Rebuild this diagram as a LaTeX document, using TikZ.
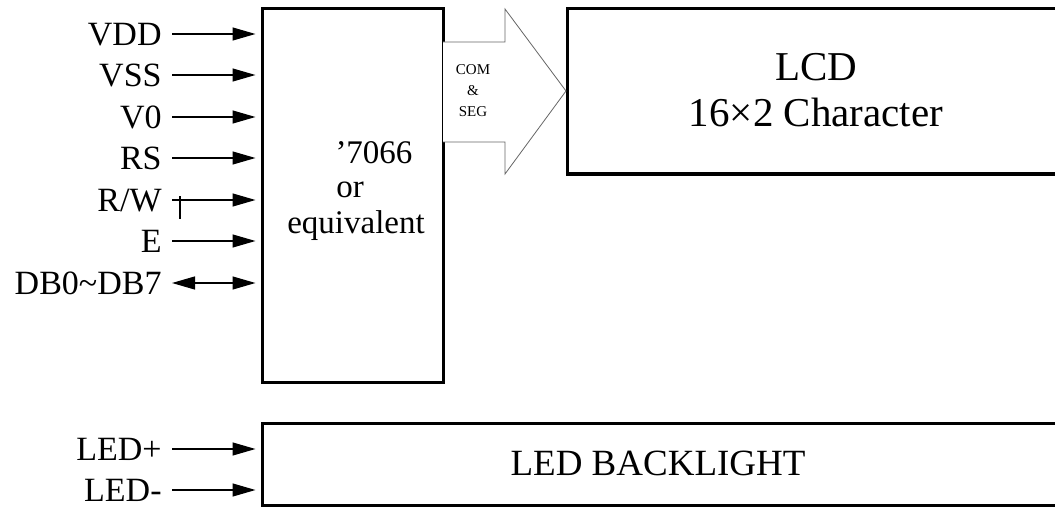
\documentclass[tikz,border=0pt]{standalone}
\usepackage{fontspec}
\setmainfont{Liberation Serif}
\usetikzlibrary{arrows.meta,positioning}

\begin{document}
\begin{tikzpicture}[x=0.5pt,y=-0.5pt]
	\tikzstyle{sig}=[anchor=east, inner sep=5pt, font=\fontsize{17}{20}\selectfont, text height=11.25pt, text depth=0pt]
	\tikzstyle{connect}=[-{Triangle[length=11.5pt,width=6.5pt]}, semithick, shorten >=2.5pt]
	\tikzstyle{box}=[rectangle, draw=black, line width=1.5pt, inner sep=0pt]
	\useasboundingbox (0,0) rectangle (1055,508);
	% blocks
	\node[box, minimum width=90.5pt, minimum height=186.5pt] (ctrl) at (352.5,195.5) {};
	\node[box, minimum width=247.5pt, minimum height=82.5pt] (lcd) at (814.5,91.5) {};
	\node[box, minimum width=400pt, minimum height=41pt] (led) at (662,464) {};
	\node[anchor=base, font=\fontsize{16.5}{18}\selectfont] (ic) at (374,163) {’7066};
	\node[anchor=base, font=\fontsize{16.5}{18}\selectfont] (or) at (350,198) {or};
	\node[anchor=base, font=\fontsize{16.5}{18}\selectfont] (eq) at (356,234) {equivalent};
	\node[align=center, font=\fontsize{20.5}{23}\selectfont] (lcdtxt) at (816,90) {LCD\\16×2 Character};
	\node[font=\fontsize{18.5}{20}\selectfont, text height=12.25pt, text depth=0pt] (ledtxt) at (658,463) {LED BACKLIGHT};
	% bus arrow
	\draw[draw=black!60, fill=white, thin] (443,42) -- (505,42) -- (505,9) -- (566,91) -- (505,174) -- (505,142) -- (443,142);
	\node[align=center, font=\fontsize{7.5}{10.5}\selectfont] (bus) at (473,91) {COM\\\&\\SEG};
	% signals
	\node[sig] (vdd) at (172,34) {VDD};
	\node[sig] (vss) at (172,75) {VSS};
	\node[sig] (v0) at (172,117) {V0};
	\node[sig] (rs) at (172,158) {RS};
	\node[sig] (rw) at (172,200) {R/W};
	\node[sig] (e) at (172,241) {E};
	\node[sig] (db) at (172,283) {DB0\char`\~DB7};
	\node[sig] (ledp) at (172,449) {LED+};
	\node[sig] (ledm) at (172,490) {LED-};

	\path
	(vdd.east) edge [connect] (vdd.east -| ctrl.west)
	(vss.east) edge [connect] (vss.east -| ctrl.west)
	(v0.east) edge [connect] (v0.east -| ctrl.west)
	(rs.east) edge [connect] (rs.east -| ctrl.west)
	(rw.east) edge [connect] (rw.east -| ctrl.west)
	(e.east) edge [connect] (e.east -| ctrl.west)
	(db.east) edge [connect, {Triangle[length=11.5pt,width=6.5pt]}-{Triangle[length=11.5pt,width=6.5pt]}] (db.east -| ctrl.west)
	(ledp.east) edge [connect] (ledp.east -| led.west)
	(ledm.east) edge [connect] (ledm.east -| led.west);
	\draw[semithick] ([xshift=4pt,yshift=2pt]rw.east) -- ++(0,23);
\end{tikzpicture}
\end{document}
